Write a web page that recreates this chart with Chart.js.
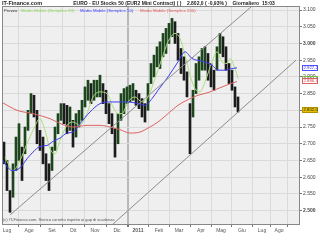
<!DOCTYPE html>
<html>
<head>
<meta charset="utf-8">
<style>
  html, body { margin: 0; padding: 0; background: #ffffff; }
  #c { display: block; }
</style>
<script src="https://cdn.jsdelivr.net/npm/chart.js@4"></script>
</head>
<body>
<canvas id="c" width="320" height="240"></canvas>
<script>
// x unit = trading days counted from the left edge of the plot (Jul 2010 .. Aug 2011)
const monthDays   = [4, 26, 49, 70, 92, 114, 135, 156, 176, 198, 218, 239, 259, 276];
const monthLabels = ["Lug", "Ago", "Set", "Ott", "Nov", "Dic", "2011", "Feb", "Mar", "Apr", "Mag", "Giu", "Lug", "Ago"];
const yTicks = [2500, 2550, 2600, 2650, 2700, 2750, 2800, 2850, 2900, 2950, 3000, 3050, 3100];

// daily bars, sampled every 3rd session (low / high)
const priceLow = [2640, 2560, 2495, 2540, 2620, 2650, 2590, 2670, 2740, 2790, 2780, 2700, 2680, 2640, 2590, 2560,
  2620, 2680, 2730, 2770, 2760, 2730, 2740, 2690, 2720, 2750, 2770, 2810, 2830, 2820, 2830, 2840, 2840, 2820,
  2790, 2760, 2730, 2660, 2700, 2770, 2790, 2820, 2825, 2830, 2815, 2805, 2780, 2765, 2800, 2880, 2900, 2930,
  2925, 2960, 2970, 3000, 3020, 3000, 2950, 2910, 2890, 2840, 2670, 2780, 2850, 2890, 2920, 2920, 2890, 2870,
  2860, 2920, 2970, 2960, 2920, 2880, 2860, 2810, 2795];
const priceHigh = [2705, 2650, 2560, 2640, 2720, 2760, 2690, 2750, 2800, 2850, 2845, 2800, 2740, 2720, 2670, 2640,
  2690, 2750, 2790, 2820, 2820, 2815, 2810, 2770, 2790, 2800, 2830, 2870, 2890, 2880, 2890, 2890, 2905, 2880,
  2860, 2820, 2790, 2745, 2790, 2850, 2865, 2870, 2875, 2880, 2860, 2850, 2835, 2820, 2880, 2940, 2965, 2990,
  3005, 3030, 3045, 3060, 3075, 3065, 3030, 2985, 2960, 2915, 2820, 2860, 2940, 2960, 2985, 2990, 2970, 2940,
  2920, 2990, 3030, 3020, 2990, 2940, 2920, 2870, 2840];
const priceDays = priceLow.map((_, i) => 1 + i * 3);

// moving averages
const ma20Days = [2, 10, 17, 24, 30, 37, 42, 47, 52, 57, 64, 70, 77, 84, 90, 97, 104, 110, 115, 119, 125, 132, 139,
  145, 152, 159, 165, 172, 177, 182, 187, 192, 197, 202, 209, 214, 219, 224, 227, 232, 235];
const ma20 = [2660, 2620, 2650, 2700, 2740, 2775, 2740, 2685, 2670, 2710, 2755, 2765, 2755, 2790, 2840, 2855, 2850,
  2810, 2790, 2790, 2825, 2840, 2825, 2840, 2895, 2955, 3005, 3030, 3015, 2965, 2905, 2865, 2855, 2885, 2945, 2975,
  2945, 2940, 2955, 2925, 2895];
const ma50Days = [0, 4, 9, 17, 24, 30, 37, 44, 50, 57, 64, 70, 77, 87, 97, 107, 117, 125, 135, 142, 149, 155, 165,
  175, 182, 189, 199, 209, 215, 222, 229, 234];
const ma50 = [2650, 2632, 2620, 2628, 2655, 2675, 2692, 2695, 2707, 2717, 2732, 2735, 2760, 2795, 2820, 2825, 2825,
  2825, 2820, 2815, 2835, 2860, 2900, 2945, 2975, 2955, 2947, 2935, 2920, 2920, 2925, 2927];
const ma200Days = [0, 14, 30, 47, 60, 70, 84, 97, 107, 117, 127, 137, 145, 155, 165, 175, 185, 195, 205, 215, 225, 234];
const ma200 = [2822, 2800, 2790, 2775, 2757, 2750, 2755, 2755, 2750, 2742, 2732, 2735, 2747, 2765, 2790, 2815, 2832,
  2845, 2853, 2865, 2877, 2886];

// two parallel trend lines
const trendUpperDays = [7, 248];
const trendUpper = [2487, 3109];
const trendLowerDays = [110, 293];
const trendLower = [2460, 2950];

// last values shown in the boxes on the right axis
const lastMa50 = 2927.2, lastMa20 = 2894.6, lastMa200 = 2886.7, lastPrice = 2802.0;

const FONT = "'Liberation Sans', Arial, sans-serif";
const fmt = v => String(v).replace(/\B(?=(\d{3})+(?!\d))/g, ".");
const fmt1 = v => {
  const [i, d] = v.toFixed(1).split(".");
  return fmt(i) + "," + d;
};
const pts = (xs, ys) => xs.map((x, i) => ({ x, y: ys[i] }));

const decor = {
  id: "decor",
  beforeDraw(chart) {
    const { ctx, chartArea: a } = chart;
    ctx.save();
    ctx.fillStyle = "#efefef";
    ctx.fillRect(a.left, a.top, a.right - a.left, a.bottom - a.top);
    ctx.restore();
  },
  afterDraw(chart) {
    const { ctx, chartArea: a } = chart;
    const y = chart.scales.y;
    ctx.save();
    ctx.strokeStyle = "#888";
    ctx.lineWidth = 1;
    ctx.strokeRect(a.left - 0.5, a.top - 0.5, a.right - a.left + 1, a.bottom - a.top + 1);

    // header
    ctx.textBaseline = "middle";
    ctx.fillStyle = "#222";
    ctx.font = "bold 5.5px " + FONT;
    ctx.fillText("IT-Finance.com", 2, 3.5);
    ctx.font = "bold 5px " + FONT;
    ctx.textAlign = "center";
    ctx.fillText("EURO - EU Stocks 50 (EUR2 Mini Contract) ( )    2.802,0 ( -0,93% )    Giornaliero  15:03", 174, 3.5);

    // legend row inside the plot
    ctx.textAlign = "left";
    ctx.font = "4.3px " + FONT;
    ctx.fillStyle = "#333";
    ctx.fillText("Prezzo", 4, 10.5);
    ctx.fillStyle = "#8fd85a";
    ctx.fillText("Media Mobile (Semplice 20)", 21, 10.5);
    ctx.fillStyle = "#4040ff";
    ctx.fillText("Media Mobile (Semplice 50)", 80, 10.5);
    ctx.fillStyle = "#e05a5a";
    ctx.fillText("Media Mobile (Semplice 200)", 140, 10.5);

    // footer note
    ctx.fillStyle = "#555";
    ctx.font = "4px " + FONT;
    ctx.fillText("(c) IT-Finance.com. Storico corretto rispetto ai gap di scadenza", 3, 220);

    // value boxes on the axis
    const box = (v, txt, fg, bg, border) => {
      const py = Math.round(y.getPixelForValue(v));
      ctx.fillStyle = bg;
      ctx.fillRect(302, py - 3, 16, 6);
      ctx.strokeStyle = border;
      ctx.strokeRect(302.5, py - 2.5, 15, 5);
      ctx.fillStyle = fg;
      ctx.font = "4.3px " + FONT;
      ctx.fillText(txt, 303.5, py + 0.3);
    };
    box(lastMa50, fmt1(lastMa50), "#3030e0", "#ffffff", "#5050ff");
    box(lastMa20, fmt1(lastMa20), "#333333", "#ffffff", "#70c040");
    box(lastMa200, fmt1(lastMa200), "#d04040", "#ffffff", "#e06060");
    box(lastPrice, fmt1(lastPrice), "#222222", "#e8c000", "#b09000");
    ctx.restore();
  }
};

const lineDs = (data, color, tension) => ({
  type: "line", data, borderColor: color, borderWidth: 1, pointRadius: 0,
  tension, cubicInterpolationMode: tension ? "monotone" : "default", fill: false
});

new Chart(document.getElementById("c"), {
  type: "bar",
  data: {
    datasets: [
      lineDs(pts(trendUpperDays, trendUpper), "#8c8c8c", 0),
      lineDs(pts(trendLowerDays, trendLower), "#8c8c8c", 0),
      lineDs(pts(ma200Days, ma200), "#e06464", 0.4),
      lineDs(pts(ma50Days, ma50), "#3c3cf0", 0.4),
      lineDs(pts(ma20Days, ma20), "#a8e07a", 0.4),
      {
        type: "bar",
        data: priceDays.map((d, i) => ({ x: d, y: [priceLow[i], priceHigh[i]] })),
        barThickness: 2,
        grouped: false,
        backgroundColor: ctx => {
          const i = ctx.dataIndex;
          if (i === 0) return "#1c1c1c";
          const m = priceLow[i] + priceHigh[i], p = priceLow[i - 1] + priceHigh[i - 1];
          return m >= p ? "#1e461e" : "#1c1c1c";
        },
        borderWidth: 0
      }
    ]
  },
  options: {
    responsive: false,
    animation: false,
    devicePixelRatio: 1,
    layout: { padding: { left: 3, top: 7, right: 0, bottom: 0 } },
    plugins: { legend: { display: false }, tooltip: { enabled: false } },
    scales: {
      x: {
        type: "linear", min: 0, max: 296, offset: false,
        afterFit: s => { s.height = 16; },
        afterBuildTicks: s => { s.ticks = monthDays.map(v => ({ value: v })); },
        ticks: {
          autoSkip: false, maxRotation: 0, padding: 1, color: "#555",
          font: ctx => ({ family: FONT, size: 5, weight: monthLabels[ctx.index] === "2011" ? "bold" : "normal" }),
          callback: (v, i) => monthLabels[i]
        },
        grid: {
          color: ctx => monthLabels[ctx.index] === "2011" ? "#b8b8b8" : "#dadada",
          lineWidth: ctx => monthLabels[ctx.index] === "2011" ? 2 : 1,
          tickLength: 3, tickColor: "#777"
        },
        border: { display: true, color: "#777" }
      },
      y: {
        position: "right", min: 2460, max: 3109,
        afterFit: s => { s.width = 21; },
        afterBuildTicks: s => { s.ticks = yTicks.map(v => ({ value: v })); },
        ticks: {
          padding: 1, color: "#444",
          font: ctx => ({ family: FONT, size: 5, weight: ctx.tick && ctx.tick.value % 500 === 0 ? "bold" : "normal" }),
          callback: v => fmt(v)
        },
        grid: { color: "#dadada", tickLength: 3, tickColor: "#777" },
        border: { display: true, color: "#777" }
      }
    }
  },
  plugins: [decor]
});
</script>
</body>
</html>
